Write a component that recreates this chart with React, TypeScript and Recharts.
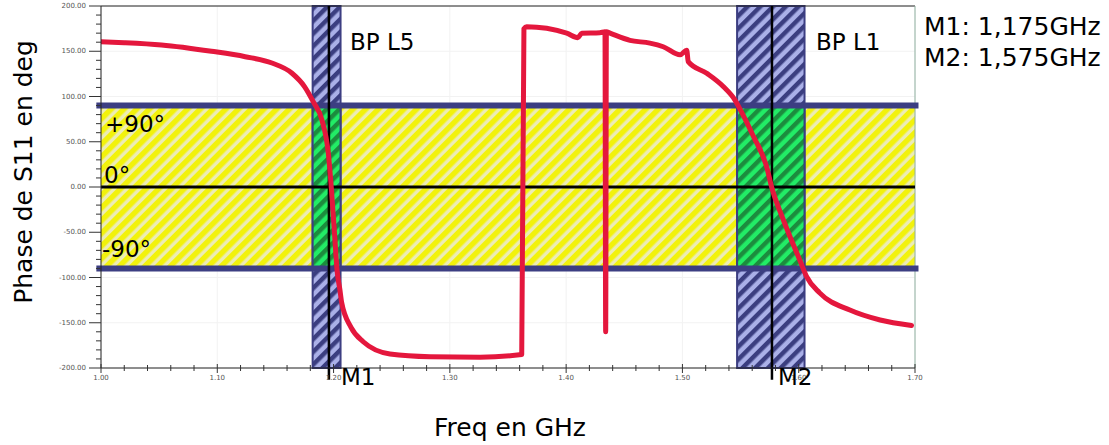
import {
  ComposedChart,
  Line,
  XAxis,
  YAxis,
  CartesianGrid,
  ReferenceArea,
  ReferenceLine
} from 'recharts'

// phase of S11
const freqGHz = [
  1.0, 1.02, 1.052, 1.095, 1.124, 1.147, 1.164, 1.175, 1.1826, 1.19, 1.1955, 1.198,
  1.201, 1.203, 1.2055, 1.207, 1.215, 1.2255, 1.2485, 1.283, 1.326, 1.3618, 1.3637,
  1.366, 1.4005, 1.41, 1.4134, 1.429, 1.4334, 1.434, 1.4346, 1.4377, 1.4549, 1.472,
  1.4835, 1.498, 1.5037, 1.505, 1.5209, 1.5351, 1.5452, 1.5495, 1.561, 1.5725, 1.5767,
  1.5867, 1.601, 1.6068, 1.618, 1.644, 1.67, 1.697
]
const phaseDeg = [
  160.5, 159.5, 157, 150, 144, 137, 126, 111, 94, 74, 37, 0,
  -55, -92, -114, -128, -155, -171, -184.5, -187.5, -188, -185, 175,
  177, 170, 165, 170, 170.5, 171.5, -160, 171.5, 170, 162, 159,
  155, 146, 151, 138.5, 125.6, 111, 96, 86, 56, 22, 0,
  -36, -81, -99, -117, -136, -147, -153
]

const xMajorTicks = [1.0, 1.1, 1.2, 1.3, 1.4, 1.5, 1.6, 1.7]
const xMinorTicks = [
  1.02, 1.04, 1.06, 1.08, 1.12, 1.14, 1.16, 1.18, 1.22, 1.24, 1.26, 1.28, 1.32, 1.34,
  1.36, 1.38, 1.42, 1.44, 1.46, 1.48, 1.52, 1.54, 1.56, 1.58, 1.62, 1.64, 1.66, 1.68
]
const yMajorTicks = [-200, -150, -100, -50, 0, 50, 100, 150, 200]
const yMinorTicks = [
  -190, -180, -170, -160, -140, -130, -120, -110, -90, -80, -70, -60, -40, -30, -20, -10,
  10, 20, 30, 40, 60, 70, 80, 90, 110, 120, 130, 140, 160, 170, 180, 190
]

const bandL5 = [1.182, 1.206]
const bandL1 = [1.547, 1.605]
const markerM1 = 1.196
const markerM2 = 1.577
const phaseLimit = 90

const data = freqGHz.map((f, i) => ({ f, phase: phaseDeg[i] }))

const NAVY = '#3c3e82'
const FONT = '"DejaVu Sans", sans-serif'

const isMajor = (list: number[], v: number) => list.some(m => Math.abs(m - v) < 1e-6)

function YTick({ x, y, payload }: any) {
  const major = isMajor(yMajorTicks, payload.value)
  return (
    <g>
      <line x1={x - (major ? 12 : 5)} x2={x} y1={y} y2={y} stroke="#333" strokeWidth={1} />
      {major && (
        <text x={x - 15} y={y} textAnchor="end" dominantBaseline="central" fontSize={7} fill="#555" fontFamily={FONT}>
          {payload.value.toFixed(2)}
        </text>
      )}
    </g>
  )
}

function XTick({ x, y, payload }: any) {
  const major = isMajor(xMajorTicks, payload.value)
  return (
    <g>
      <line x1={x} x2={x} y1={y - (major ? 4 : 3)} y2={y + (major ? 5 : 3)} stroke="#333" strokeWidth={1} />
      {major && (
        <text x={x} y={y + 10} textAnchor="middle" dominantBaseline="central" fontSize={7} fill="#555" fontFamily={FONT}>
          {payload.value.toFixed(2)}
        </text>
      )}
    </g>
  )
}

export default function App() {
  return (
    <div style={{ position: 'absolute', left: 0, top: 0, width: 1109, height: 445, background: '#fff', fontFamily: FONT }}>
      <ComposedChart width={1109} height={445} data={data} margin={{ top: 6, right: 194, left: 41, bottom: 47 }}>
        <defs>
          <pattern id="hatchYellow" patternUnits="userSpaceOnUse" width="9" height="9" patternTransform="rotate(45)">
            <rect width="9" height="9" fill="#ececb6" />
            <rect width="5.5" height="9" fill="#f2f20c" />
          </pattern>
          <pattern id="hatchBlue" patternUnits="userSpaceOnUse" width="9" height="9" patternTransform="rotate(45)">
            <rect width="9" height="9" fill="#aab0e8" />
            <rect width="4.5" height="9" fill="#3b3e80" />
          </pattern>
          <pattern id="hatchGreen" patternUnits="userSpaceOnUse" width="9" height="9" patternTransform="rotate(45)">
            <rect width="9" height="9" fill="#22ec66" />
            <rect width="4.5" height="9" fill="#1c8c3e" />
          </pattern>
        </defs>
        <CartesianGrid stroke="#f2f2f2" horizontalValues={yMajorTicks} verticalValues={xMajorTicks} />
        <XAxis
          dataKey="f"
          type="number"
          domain={[1, 1.7]}
          ticks={[...xMajorTicks, ...xMinorTicks]}
          interval={0}
          tick={<XTick />}
          tickLine={false}
          tickSize={0}
          tickMargin={0}
          axisLine={{ stroke: '#222' }}
          height={30}
          allowDataOverflow
        />
        <YAxis
          type="number"
          domain={[-200, 200]}
          ticks={[...yMajorTicks, ...yMinorTicks]}
          interval={0}
          tick={<YTick />}
          tickLine={false}
          tickSize={0}
          tickMargin={0}
          axisLine={{ stroke: '#222' }}
          width={60}
          allowDataOverflow
        />
        <ReferenceArea y1={-phaseLimit} y2={phaseLimit} fill="url(#hatchYellow)" fillOpacity={1} stroke="none" />
        <ReferenceArea x1={bandL5[0]} x2={bandL5[1]} y1={-200} y2={200} fill="url(#hatchBlue)" fillOpacity={1} stroke={NAVY} strokeWidth={2} />
        <ReferenceArea x1={bandL1[0]} x2={bandL1[1]} y1={-200} y2={200} fill="url(#hatchBlue)" fillOpacity={1} stroke={NAVY} strokeWidth={2} />
        <ReferenceArea x1={bandL5[0]} x2={bandL5[1]} y1={-phaseLimit} y2={phaseLimit} fill="url(#hatchGreen)" fillOpacity={1} stroke={NAVY} strokeWidth={2} />
        <ReferenceArea x1={bandL1[0]} x2={bandL1[1]} y1={-phaseLimit} y2={phaseLimit} fill="url(#hatchGreen)" fillOpacity={1} stroke={NAVY} strokeWidth={2} />
        <ReferenceLine y={200} stroke="#222" strokeWidth={1} />
        <ReferenceLine x={1.7} stroke="#8fb0a0" strokeWidth={1} />
        <ReferenceLine y={0} stroke="#000" strokeWidth={3} />
        <ReferenceLine
          segment={[{ x: 0.996, y: phaseLimit }, { x: 1.703, y: phaseLimit }]}
          ifOverflow="visible"
          stroke={NAVY}
          strokeWidth={6}
        />
        <ReferenceLine
          segment={[{ x: 0.996, y: -phaseLimit }, { x: 1.703, y: -phaseLimit }]}
          ifOverflow="visible"
          stroke={NAVY}
          strokeWidth={6}
        />
        <ReferenceLine
          segment={[{ x: markerM1, y: 200 }, { x: markerM1, y: -213 }]}
          ifOverflow="visible"
          stroke="#000"
          strokeWidth={2.5}
        />
        <ReferenceLine
          segment={[{ x: markerM2, y: 200 }, { x: markerM2, y: -213 }]}
          ifOverflow="visible"
          stroke="#000"
          strokeWidth={2.5}
        />
        <Line
          type="monotoneX"
          dataKey="phase"
          stroke="#e4173d"
          strokeWidth={5}
          strokeLinecap="round"
          strokeLinejoin="round"
          dot={false}
          isAnimationActive={false}
        />
      </ComposedChart>
      <svg width={1109} height={445} style={{ position: 'absolute', left: 0, top: 0, pointerEvents: 'none' }}>
        <g fontFamily={FONT} fill="#000">
          <text x={32} y={172} fontSize={25} textAnchor="middle" transform="rotate(-90 32 172)">Phase de S11 en deg</text>
          <text x={510} y={436} fontSize={25} textAnchor="middle">Freq en GHz</text>
          <text x={924} y={35} fontSize={25}>M1: 1,175GHz</text>
          <text x={924} y={66} fontSize={25}>M2: 1,575GHz</text>
          <text x={350} y={50} fontSize={23}>BP L5</text>
          <text x={816} y={50} fontSize={23}>BP L1</text>
          <text x={105} y={132} fontSize={23}>+90°</text>
          <text x={104} y={183} fontSize={23}>0°</text>
          <text x={102} y={257} fontSize={23}>-90°</text>
          <text x={341} y={385} fontSize={23}>M1</text>
          <text x={778} y={385} fontSize={23}>M2</text>
        </g>
      </svg>
    </div>
  )
}
